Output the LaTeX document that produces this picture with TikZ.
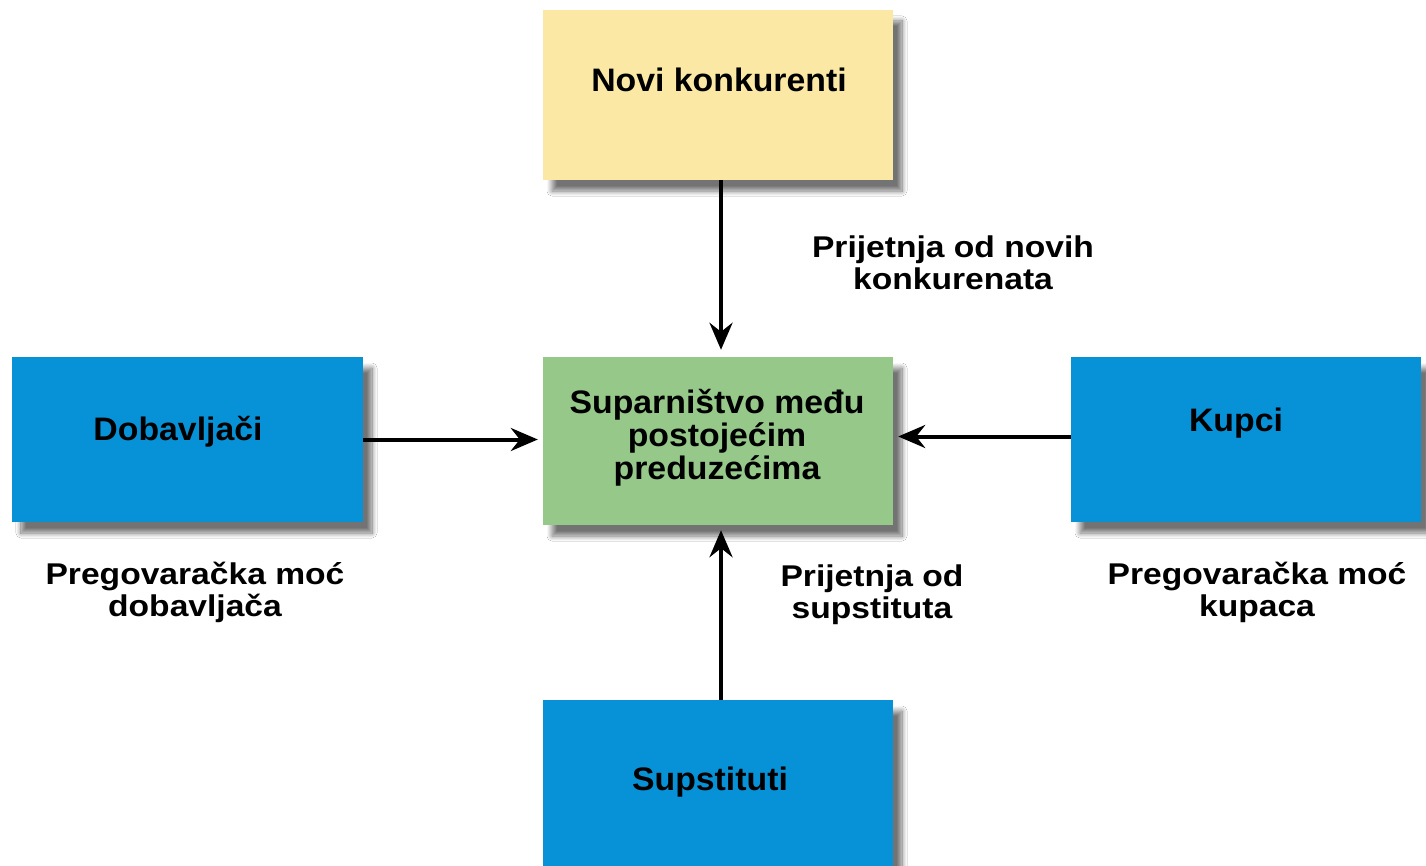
\documentclass[tikz,border=0pt]{standalone}
\usepackage{fontspec}
\setmainfont{Liberation Sans}
\usetikzlibrary{arrows.meta,shadows.blur}
\definecolor{ylw}{HTML}{FAE8A4}
\definecolor{grn}{HTML}{96C88A}
\definecolor{blu}{HTML}{0791D6}
\begin{document}
\begin{tikzpicture}[x=1pt,y=-1pt,
 box/.style={draw=none, minimum width=350pt, minimum height=168pt, inner sep=0pt,
   blur shadow={shadow xshift=9pt,shadow yshift=-11pt,shadow blur steps=16,shadow blur radius=5pt,shadow opacity=55}},
 txt/.style={font=\bfseries\fontsize{32.5}{33}\selectfont, align=center, inner sep=0pt, xscale=1.04},
 lbl/.style={font=\bfseries\fontsize{30}{32}\selectfont, align=center, inner sep=0pt, xscale=1.12},
 arr/.style={line width=4pt, -{Stealth[length=27pt,width=23pt,inset=9pt]}}]
\useasboundingbox (0,0) rectangle (1426,866);
\fill[white] (0,0) rectangle (1426,866);
% boxes
\node[box, fill=ylw, minimum height=170pt] (novi) at (718,95) {};
\node[box, fill=grn] (ctr) at (718,441) {};
\node[box, fill=blu, minimum width=351pt, minimum height=165pt] (dob) at (187.5,439.5) {};
\node[box, fill=blu, minimum height=165pt] (kup) at (1246,439.5) {};
\node[box, fill=blu, minimum height=170pt] (sup) at (718,785) {};
% box texts
\node[txt] (tnovi) at (719,80) {Novi konkurenti};
\node[txt] (tctr) at (717,438) {Suparništvo među\\postojećim\\preduzećima};
\node[txt] (tdob) at (178,432) {Dobavljači};
\node[txt] (tkup) at (1236,423) {Kupci};
\node[txt] (tsup) at (710,782) {Supstituti};
% labels
\node[lbl] (lnovi) at (953,263) {Prijetnja od novih\\konkurenata};
\node[lbl] (ldob) at (195,592) {Pregovaračka moć\\dobavljača};
\node[lbl] (lkup) at (1257,592) {Pregovaračka moć\\kupaca};
\node[lbl] (lsup) at (872,595) {Prijetnja od\\supstituta};
% arrows
\draw[arr] ([xshift=3pt]novi.south) -- ([xshift=3pt,yshift=7pt]ctr.north);
\draw[arr] (dob.east) -- ([xshift=-5pt]dob.east -| ctr.west);
\draw[arr] ([yshift=3pt]kup.west) -- ([xshift=5pt,yshift=3pt]kup.west -| ctr.east);
\draw[arr] ([xshift=3pt]sup.north) -- ([xshift=3pt,yshift=-5pt]ctr.south);
\end{tikzpicture}
\end{document}
